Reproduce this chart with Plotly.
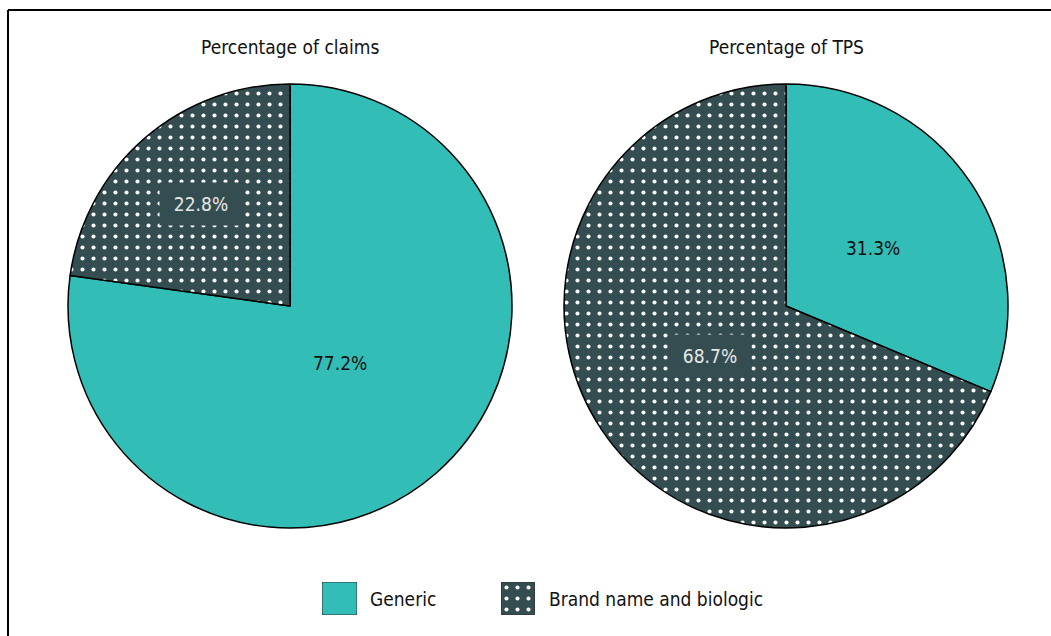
import math
import plotly.graph_objects as go

# ---- data ----
categories = ["Generic", "Brand name and biologic"]
claims_pct = [77.2, 22.8]
tps_pct = [31.3, 68.7]
panel_titles = ["Percentage of claims", "Percentage of TPS"]

# ---- style ----
W, H = 1051, 636
TEAL = "#32BDB7"
DARK = "#344D50"
FONT = "Liberation Sans Narrow, Arial Narrow, DejaVu Sans Condensed, sans-serif"
label_r = [[0.34, 0.61], [0.47, 0.41]]  # radial fraction of label per slice
PAT_SIZE, PAT_SOLID = 11, 0.11

panels = [
    dict(values=claims_pct, cx=290, cy=306, R=222),
    dict(values=tps_pct, cx=786, cy=306, R=222),
]

fig = go.Figure()
annotations = []

for i, p in enumerate(panels):
    cx, cy, R = p["cx"], p["cy"], p["R"]
    fig.add_trace(go.Pie(
        labels=categories,
        values=p["values"],
        sort=False,
        direction="clockwise",
        rotation=0,
        textinfo="none",
        hoverinfo="label+percent",
        showlegend=False,
        marker=dict(
            colors=[TEAL, DARK],
            line=dict(color="#000000", width=1.5),
            pattern=dict(shape=["", "."], fgcolor="#ffffff", bgcolor=[TEAL, DARK],
                         size=PAT_SIZE, solidity=PAT_SOLID, fillmode="replace"),
        ),
        domain=dict(x=[(cx - R) / W, (cx + R) / W], y=[1 - (cy + R) / H, 1 - (cy - R) / H]),
    ))
    # panel title
    annotations.append(dict(
        text=panel_titles[i], x=cx / W, y=1 - 47 / H, xref="paper", yref="paper",
        showarrow=False, font=dict(family=FONT, size=19, color="#111111"),
        xanchor="center", yanchor="middle",
    ))
    # slice labels
    total = sum(p["values"])
    start = 0.0
    for j, v in enumerate(p["values"]):
        mid = (start + v / 2) / total * 2 * math.pi
        start += v
        r = label_r[i][j] * R
        px = cx + r * math.sin(mid)
        py = cy - r * math.cos(mid)
        ann = dict(
            text=f"{v:.1f}%", x=px / W, y=1 - py / H, xref="paper", yref="paper",
            showarrow=False, xanchor="center", yanchor="middle",
            font=dict(family=FONT, size=19, color="#111111" if j == 0 else "#e8e8e8"),
        )
        if j == 1:
            ann.update(bgcolor=DARK, width=80, height=40)
        annotations.append(ann)

# ---- legend drawn with patterned bars ----
legend_boxes = [(322, 357), (501, 535)]
legend_text_x = [368, 547]
ly0, ly1 = 582, 615
for k, (x0, x1) in enumerate(legend_boxes):
    xa = f"xaxis{k + 2}"
    ya = f"yaxis{k + 2}"
    fig.add_trace(go.Bar(
        x=[0], y=[1], width=[1], xaxis=f"x{k + 2}", yaxis=f"y{k + 2}",
        showlegend=False, hoverinfo="skip",
        marker=dict(color=[TEAL, DARK][k], line=dict(color="#333333", width=1),
                    pattern=dict(shape=["", "."][k], fgcolor="#ffffff", bgcolor=[TEAL, DARK][k],
                                 size=PAT_SIZE, solidity=PAT_SOLID, fillmode="replace")),
    ))
    fig.update_layout(**{
        xa: dict(domain=[x0 / W, x1 / W], range=[-0.5, 0.5], visible=False, fixedrange=True),
        ya: dict(domain=[1 - ly1 / H, 1 - ly0 / H], range=[0, 1], visible=False, fixedrange=True),
    })
    annotations.append(dict(
        text=categories[k], x=legend_text_x[k] / W, y=1 - 599 / H, xref="paper", yref="paper",
        showarrow=False, xanchor="left", yanchor="middle",
        font=dict(family=FONT, size=19, color="#111111"),
    ))

# ---- frame (top and left edges) ----
shapes = [
    dict(type="line", xref="paper", yref="paper", x0=8 / W, x1=1.0, y0=1 - 10 / H, y1=1 - 10 / H,
         line=dict(color="#000000", width=2)),
    dict(type="line", xref="paper", yref="paper", x0=8 / W, x1=8 / W, y0=1 - 10 / H, y1=0,
         line=dict(color="#000000", width=2)),
]

fig.update_layout(
    width=W, height=H,
    margin=dict(l=0, r=0, t=0, b=0),
    paper_bgcolor="#ffffff", plot_bgcolor="rgba(0,0,0,0)",
    annotations=annotations, shapes=shapes,
    xaxis=dict(visible=False), yaxis=dict(visible=False),
    showlegend=False,
)

fig.write_html("out.html")
